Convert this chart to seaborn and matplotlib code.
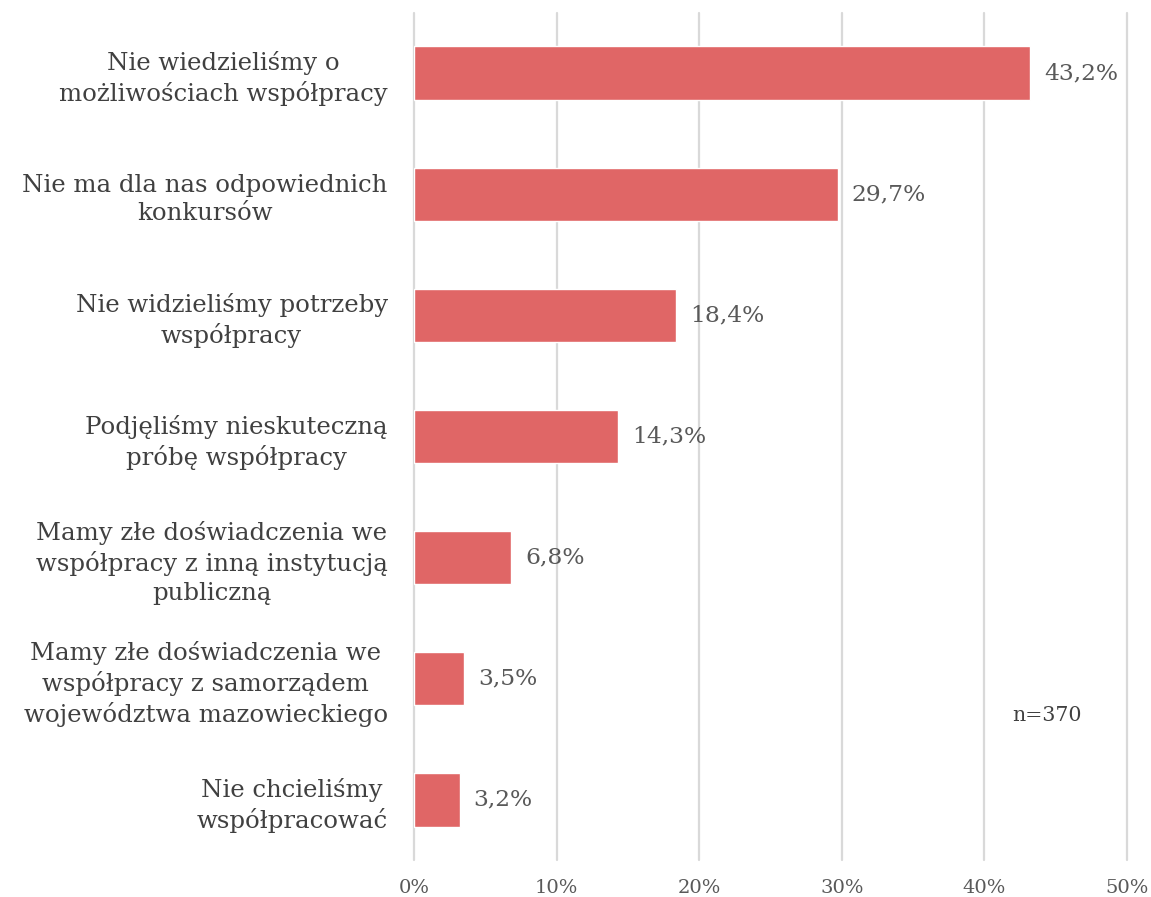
import matplotlib
matplotlib.use("Agg")
import matplotlib.pyplot as plt
import seaborn as sns
import pandas as pd
from matplotlib.ticker import FuncFormatter

categories = [
    "Nie wiedzieliśmy o\nmożliwościach współpracy",
    "Nie ma dla nas odpowiednich\nkonkursów",
    "Nie widzieliśmy potrzeby\nwspółpracy",
    "Podjęliśmy nieskuteczną\npróbę współpracy",
    "Mamy złe doświadczenia we\nwspółpracy z inną instytucją\npubliczną",
    "Mamy złe doświadczenia we\nwspółpracy z samorządem\nwojewództwa mazowieckiego",
    "Nie chcieliśmy\nwspółpracować",
]
values = [43.2, 29.7, 18.4, 14.3, 6.8, 3.5, 3.2]
x_ticks = [0, 10, 20, 30, 40, 50]
sample_note = "n=370"

sns.set_theme(style="white")
plt.rcParams["font.family"] = ["DejaVu Serif"]

df = pd.DataFrame({"kategoria": categories, "procent": values})

fig = plt.figure(figsize=(11.51, 8.97), dpi=100)
ax = fig.add_axes([0.3597, 0.0407, 0.6195, 0.9453])

sns.barplot(data=df, x="procent", y="kategoria", orient="h",
            color="#E06666", width=0.44, ax=ax, zorder=3, saturation=1)

ax.set_xlim(0, 50)
ax.set_ylim(6.5, -0.5)
ax.set_xticks(x_ticks)
ax.xaxis.set_major_formatter(FuncFormatter(lambda v, p: f"{int(v)}%"))
ax.grid(axis="x", color="#D9D9D9", linewidth=1.6, zorder=0)
ax.grid(axis="y", visible=False)
for gl in ax.get_xgridlines():
    gl.set_clip_on(False)
for s in ax.spines.values():
    s.set_visible(False)
ax.set_xlabel("")
ax.set_ylabel("")
ax.tick_params(axis="x", length=0, pad=13, labelsize=14, labelcolor="#595959")
ax.tick_params(axis="y", length=0, pad=19, labelsize=17.6, labelcolor="#404040")
for lbl in ax.get_yticklabels():
    lbl.set_multialignment("center")
    lbl.set_linespacing(1.3)

ax.bar_label(ax.containers[0],
             labels=[f"{v:.1f}%".replace(".", ",") for v in values],
             padding=10, fontsize=16.8, color="#595959")

ax.text(44.4, 5.3, sample_note, ha="center", va="center",
        fontsize=14.8, color="#404040")

fig.savefig("out.png", dpi=100)
